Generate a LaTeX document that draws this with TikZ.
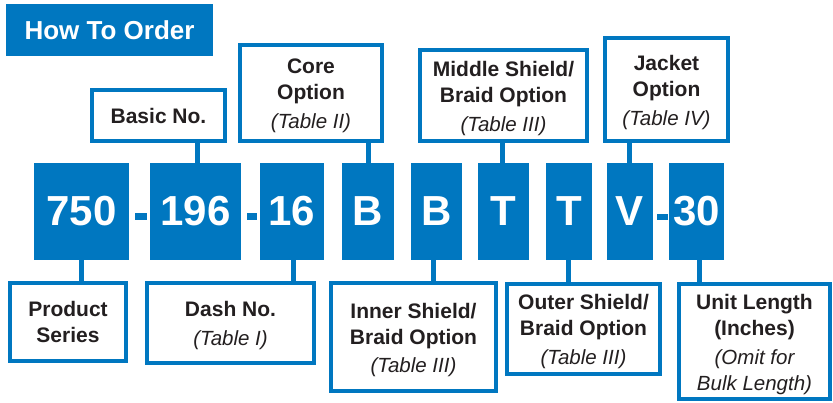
\documentclass[tikz,border=0pt]{standalone}
\usepackage{fontspec}
\setmainfont{Liberation Sans}
\definecolor{brandblue}{HTML}{0077C0}
\definecolor{ink}{HTML}{231F20}
\newcommand{\topstrut}{\rule{0pt}{21pt}}
\begin{document}
\begin{tikzpicture}[x=1pt,y=-1pt,
 codebox/.style={fill=brandblue, text=white, font=\fontsize{42}{42}\selectfont\bfseries, inner sep=0pt, minimum height=97pt},
 infobox/.style={draw=brandblue, line width=4pt, fill=white, text=ink, align=center, inner sep=0pt, font=\fontsize{21}{26}\selectfont\bfseries},
 linkline/.style={draw=brandblue, line width=5pt},
 dashmark/.style={fill=brandblue, inner sep=0pt, minimum width=11pt, minimum height=7pt}
]
\useasboundingbox (0,0) rectangle (833,402);

% title
\node[fill=brandblue, text=white, font=\fontsize{26}{26}\selectfont\bfseries, minimum width=207pt, minimum height=52pt, inner sep=0pt] (title) at (109.5,30) {How To Order};

% code boxes
\node[codebox, minimum width=95pt] (c750) at (81.5,211.5) {750};
\node[codebox, minimum width=91pt] (c196) at (195.5,211.5) {196};
\node[codebox, minimum width=64pt] (c16) at (292,211.5) {16};
\node[codebox, minimum width=52pt] (cB) at (368,211.5) {B};
\node[codebox, minimum width=51pt] (cBb) at (436.5,211.5) {B};
\node[codebox, minimum width=51pt] (cT) at (503.5,211.5) {T};
\node[codebox, minimum width=46pt] (cTt) at (569,211.5) {T};
\node[codebox, minimum width=46pt] (cV) at (630,211.5) {V};
\node[codebox, minimum width=55pt] (c30) at (696.5,211.5) {30};

% dashes
\node[dashmark, minimum width=12pt] (d1) at (141,216.5) {};
\node[dashmark, minimum width=10pt] (d2) at (252,216.5) {};
\node[dashmark, minimum width=11pt, minimum height=6pt] (d3) at (662.5,217) {};

% top labels
\node[infobox, minimum width=133pt, minimum height=51pt] (basic) at (158.5,115.5) {Basic No.};
\node[infobox, minimum width=142pt, minimum height=96pt] (core) at (311,93) {\topstrut Core\\Option\\[3pt]{\mdseries\itshape\fontsize{20.5}{26}\selectfont (Table II)}};
\node[infobox, minimum width=167pt, minimum height=91pt] (middle) at (503.5,95.5) {\topstrut Middle Shield/\\Braid Option\\[3pt]{\mdseries\itshape\fontsize{20.5}{26}\selectfont (Table III)}};
\node[infobox, minimum width=123pt, minimum height=103pt] (jacket) at (666.5,89.5) {\topstrut Jacket\\Option\\[3pt]{\mdseries\itshape\fontsize{20.5}{26}\selectfont (Table IV)}};

% bottom labels
\node[infobox, minimum width=116pt, minimum height=78pt] (product) at (68,322) {Product\\Series};
\node[infobox, minimum width=167pt, minimum height=80pt] (dash) at (230.5,323) {\topstrut Dash No.\\[3pt]{\mdseries\itshape\fontsize{20.5}{26}\selectfont (Table I)}};
\node[infobox, minimum width=165pt, minimum height=108pt] (inner) at (413.5,337) {\topstrut Inner Shield/\\Braid Option\\[2pt]{\mdseries\itshape\fontsize{20.5}{26}\selectfont (Table III)}};
\node[infobox, minimum width=153pt, minimum height=90pt] (outer) at (583.5,329) {\topstrut Outer Shield/\\Braid Option\\[3pt]{\mdseries\itshape\fontsize{20.5}{26}\selectfont (Table III)}};
\node[infobox, minimum width=151pt, minimum height=115pt] (unit) at (754.5,341.5) {\topstrut Unit Length\\(Inches)\\[3pt]{\mdseries\itshape\fontsize{20.5}{26}\selectfont (Omit for}\\{\mdseries\itshape\fontsize{20.5}{26}\selectfont Bulk Length)}};

% connectors
\draw[linkline] (c750.south) -- (c750.south |- product.north);
\draw[linkline] ([xshift=1.5pt]c196.north) -- ([xshift=1.5pt]c196.north |- basic.south);
\draw[linkline] ([xshift=1pt]c16.south) -- ([xshift=1pt]c16.south |- dash.north);
\draw[linkline] (cB.north) -- (cB.north |- core.south);
\draw[linkline] ([xshift=-3.5pt]cBb.south) -- ([xshift=-3.5pt]cBb.south |- inner.north);
\draw[linkline] ([xshift=-1pt]cT.north) -- ([xshift=-1pt]cT.north |- middle.south);
\draw[linkline] ([xshift=-1pt]cTt.south) -- ([xshift=-1pt]cTt.south |- outer.north);
\draw[linkline] ([xshift=-1pt]cV.north) -- ([xshift=-1pt]cV.north |- jacket.south);
\draw[linkline] ([xshift=2.5pt]c30.south) -- ([xshift=2.5pt]c30.south |- unit.north);
\end{tikzpicture}
\end{document}
